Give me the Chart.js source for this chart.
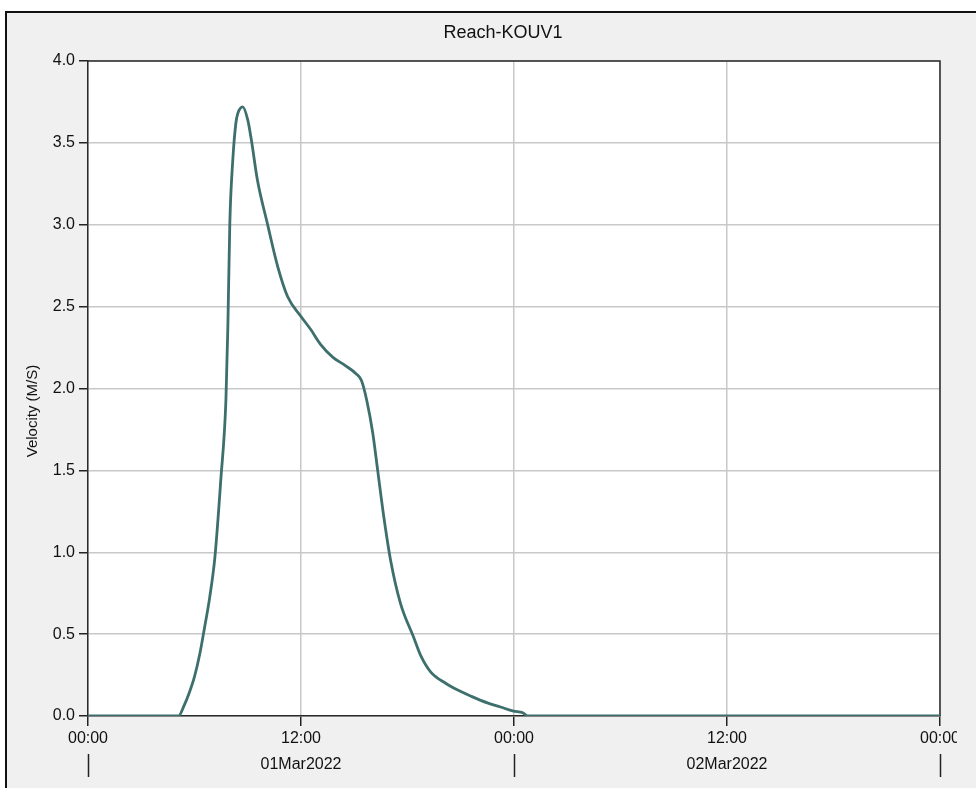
<!DOCTYPE html>
<html>
<head>
<meta charset="utf-8">
<script src="https://cdn.jsdelivr.net/npm/chart.js@4.4.1/dist/chart.umd.min.js"></script>
<style>
  html, body { margin: 0; padding: 0; background: #fff; width: 976px; height: 788px; overflow: hidden; }
  .panel { position: absolute; left: 5px; top: 11px; right: 0; bottom: 0; background: #f0f0f0;
           border-left: 2px solid #111; border-top: 2px solid #111; }
  #chart { position: absolute; left: 0; top: 0; }
</style>
</head>
<body>
<div class="panel"></div>
<canvas id="chart" width="957" height="788"></canvas>
<script>
// hours after 28Feb2022 24:00
const hours = [0, 5.1, 5.4, 5.7, 6.0, 6.3, 6.55, 6.85, 7.15, 7.48, 7.77, 7.88, 7.99, 8.16, 8.33, 8.44, 8.72, 9.0, 9.2, 9.55, 10.1, 10.7, 11.25, 12.0, 12.55, 13.1, 13.8, 14.5, 15.1, 15.4, 15.7, 16.04, 16.32, 16.66, 17.05, 17.6, 18.35, 18.74, 19.3, 20.15, 20.8, 21.6, 22.5, 23.24, 23.97, 24.5, 24.76, 48];
const velocity = [0, 0, 0.06, 0.14, 0.24, 0.38, 0.53, 0.72, 0.97, 1.44, 1.93, 2.38, 3.01, 3.40, 3.62, 3.68, 3.72, 3.64, 3.52, 3.27, 3.01, 2.74, 2.56, 2.44, 2.36, 2.27, 2.19, 2.14, 2.09, 2.05, 1.93, 1.73, 1.50, 1.22, 0.95, 0.69, 0.48, 0.37, 0.27, 0.20, 0.16, 0.12, 0.08, 0.055, 0.03, 0.02, 0, 0];

const tickLabels = ['00:00', '12:00', '00:00', '12:00', '00:00'];
const dayLabels = ['01Mar2022', '02Mar2022'];
const dayCenters = [12, 36];
const dayBreaks = [0, 24, 48];

const FONT = '"Liberation Sans", Arial, sans-serif';

// plot background, frame, titles and the day row under the time ticks
const extras = {
  id: 'extras',
  beforeDraw(chart) {
    const a = chart.chartArea, ctx = chart.ctx;
    ctx.save();
    ctx.fillStyle = '#fff';
    ctx.fillRect(a.left, a.top, a.right - a.left, a.bottom - a.top);
    ctx.restore();
  },
  beforeDatasetsDraw(chart) {
    const a = chart.chartArea, ctx = chart.ctx;
    ctx.save();
    ctx.strokeStyle = '#2a2a2a';
    ctx.lineWidth = 1.5;
    ctx.beginPath();
    ctx.moveTo(a.left, a.top);
    ctx.lineTo(a.right, a.top);
    ctx.lineTo(a.right, a.bottom);
    ctx.stroke();
    ctx.restore();
  },
  afterDraw(chart) {
    const ctx = chart.ctx, x = chart.scales.x;
    ctx.save();
    ctx.fillStyle = '#111';
    ctx.textAlign = 'center';
    ctx.textBaseline = 'middle';
    ctx.font = '18px ' + FONT;
    ctx.fillText('Reach-KOUV1', 503, 33);

    ctx.font = '15px ' + FONT;
    ctx.translate(33, 411);
    ctx.rotate(-Math.PI / 2);
    ctx.fillText('Velocity (M/S)', 0, 0);
    ctx.setTransform(1, 0, 0, 1, 0, 0);

    ctx.font = '16px ' + FONT;
    dayLabels.forEach(function(lbl, i) {
      ctx.fillText(lbl, x.getPixelForValue(dayCenters[i]), 765);
    });
    ctx.strokeStyle = '#222';
    ctx.lineWidth = 1.5;
    dayBreaks.forEach(function(h) {
      const px = Math.round(x.getPixelForValue(h)) + 0.5;
      ctx.beginPath();
      ctx.moveTo(px, 754);
      ctx.lineTo(px, 777);
      ctx.stroke();
    });
    ctx.restore();
  }
};

const points = hours.map(function(h, i) { return {x: h, y: velocity[i]}; });

new Chart(document.getElementById('chart'), {
  type: 'line',
  data: {
    datasets: [{
      data: points,
      borderColor: '#3d6f6d',
      borderWidth: 2.8,
      pointRadius: 0,
      cubicInterpolationMode: 'monotone',
      fill: false
    }]
  },
  options: {
    responsive: false,
    animation: false,
    devicePixelRatio: 1,
    layout: { padding: { top: 61, right: 17, bottom: 0, left: 0 } },
    plugins: { legend: { display: false }, tooltip: { enabled: false } },
    scales: {
      x: {
        type: 'linear',
        min: 0,
        max: 48,
        afterBuildTicks(s) { s.ticks = [0, 12, 24, 36, 48].map(function(v) { return {value: v}; }); },
        afterFit(s) { s.height = 72; s.paddingLeft = 0; s.paddingRight = 0; },
        ticks: {
          color: '#111',
          font: { family: FONT, size: 16 },
          padding: 3,
          maxRotation: 0,
          autoSkip: false,
          callback: function(v, i) { return tickLabels[i]; }
        },
        grid: { color: '#c8c8c8', lineWidth: 1.5, tickColor: '#222', tickLength: 10 },
        border: { display: true, color: '#2a2a2a', width: 1.5 }
      },
      y: {
        min: 0,
        max: 4,
        afterFit(s) { s.width = 88; },
        ticks: {
          stepSize: 0.5,
          color: '#111',
          font: { family: FONT, size: 16 },
          padding: 4,
          callback: function(v) { return v.toFixed(1); }
        },
        grid: { color: '#c8c8c8', lineWidth: 1.5, tickColor: '#222', tickLength: 9 },
        border: { display: true, color: '#2a2a2a', width: 1.5 }
      }
    }
  },
  plugins: [extras]
});
</script>
</body>
</html>
